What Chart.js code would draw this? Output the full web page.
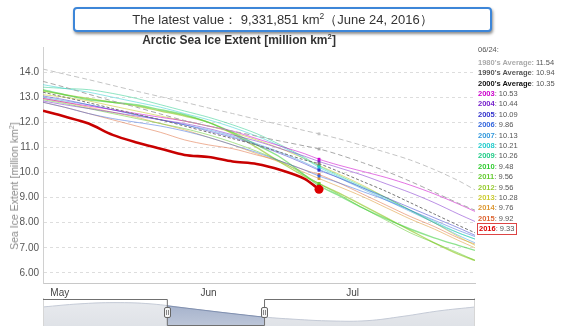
<!DOCTYPE html>
<html>
<head>
<meta charset="utf-8">
<script src="https://cdn.jsdelivr.net/npm/chart.js@4.4.1/dist/chart.umd.min.js"></script>
<style>
  body { margin: 0; width: 570px; height: 328px; overflow: hidden; background: #fff; position: relative;
         font-family: "Liberation Sans", Arial, sans-serif; }
  canvas { position: absolute; }
  #latestBox { position: absolute; left: 73px; top: 7px; width: 415px; height: 21px; border: 2px solid #3d86d8;
               border-radius: 4px; box-shadow: 1px 2px 3px rgba(0,0,0,0.45); text-align: center;
               font-size: 13px; line-height: 21px; color: #333; background: #fff; }
  #latestBox sup, #chartTitle sup { font-size: 65%; line-height: 0; }
  #chartTitle { position: absolute; left: 0; width: 478px; top: 33px; text-align: center; font-weight: bold;
                font-size: 12px; color: #333; }
  #yTitle { position: absolute; left: 14px; top: 186px; transform: translate(-50%, -50%) rotate(-90deg);
            white-space: nowrap; font-size: 10.5px; font-weight: normal; color: #8a8a8a; }
  #yTitle sup { font-size: 65%; line-height: 0; }
  #legendBox { position: absolute; left: 478px; top: 45px; font-size: 7.5px; color: #555; }
  #legendBox div { position: absolute; white-space: nowrap; line-height: 10px; }
  #legendBox b { font-weight: bold; }
  #legendBox .now { border: 1px solid #d44; padding: 0 2px 0 1px; left: -1px; }
</style>
</head>
<body>
<canvas id="mainChart" width="570" height="328" style="left:0;top:0"></canvas>
<canvas id="navChart" width="432" height="28" style="left:43px;top:298px"></canvas>
<div id="latestBox">The latest value： 9,331,851 km<sup>2</sup>（June 24, 2016）</div>
<div id="chartTitle">Arctic Sea Ice Extent [million km<sup>2</sup>]</div>
<div id="yTitle">Sea Ice Extent [million km<sup>2</sup>]</div>
<div id="legendBox"></div>
<script>
// days counted from May 1 (May 1 = 0)
const days = [-3.5, 1, 6, 11, 16, 21, 26, 31, 36, 41, 46, 51, 54, 58, 63, 68, 73, 78, 83, 86.5];
const latestDay = 54; // June 24
const latestLabel = '06/24:';
const monthTicks = [0, 31, 61];
const monthLabels = ['May', 'Jun', 'Jul'];
const yTicks = [6, 7, 8, 9, 10, 11, 12, 13, 14];

// extent in million km2
const avg1980s = [14.12, 13.92, 13.70, 13.47, 13.24, 13.02, 12.80, 12.57, 12.35, 12.12, 11.90, 11.67, 11.54, 11.35, 11.08, 10.80, 10.50, 10.12, 9.68, 9.31];
const avg1990s = [13.63, 13.40, 13.12, 12.85, 12.60, 12.33, 12.07, 11.85, 11.65, 11.45, 11.25, 11.06, 10.94, 10.72, 10.40, 10.05, 9.65, 9.22, 8.78, 8.50];
const avg2000s = [13.20, 13.00, 12.78, 12.55, 12.32, 12.10, 11.85, 11.60, 11.35, 11.10, 10.80, 10.50, 10.35, 10.05, 9.65, 9.25, 8.80, 8.35, 7.90, 7.60];
const ext2003 = [12.95, 12.80, 12.65, 12.50, 12.35, 12.20, 12.05, 11.85, 11.65, 11.35, 11.05, 10.75, 10.53, 10.30, 10.05, 9.80, 9.50, 9.15, 8.75, 8.45];
const ext2004 = [12.85, 12.70, 12.55, 12.40, 12.25, 12.10, 11.95, 11.75, 11.50, 11.25, 10.95, 10.65, 10.44, 10.20, 9.90, 9.55, 9.20, 8.80, 8.35, 8.05];
const ext2005 = [13.05, 12.90, 12.70, 12.50, 12.30, 12.10, 11.90, 11.65, 11.40, 11.10, 10.75, 10.35, 10.09, 9.80, 9.40, 9.00, 8.60, 8.20, 7.80, 7.50];
const ext2006 = [12.80, 12.60, 12.35, 12.15, 12.00, 11.85, 11.65, 11.40, 11.10, 10.80, 10.45, 10.10, 9.86, 9.60, 9.25, 8.90, 8.50, 8.10, 7.70, 7.45];
const ext2007 = [13.00, 12.85, 12.70, 12.50, 12.30, 12.10, 11.90, 11.70, 11.45, 11.15, 10.80, 10.40, 10.13, 9.80, 9.35, 8.90, 8.45, 8.00, 7.50, 7.20];
const ext2008 = [13.50, 13.35, 13.20, 13.00, 12.80, 12.60, 12.35, 12.10, 11.80, 11.45, 11.05, 10.55, 10.21, 9.85, 9.40, 8.95, 8.50, 8.05, 7.60, 7.35];
const ext2009 = [13.40, 13.35, 13.30, 13.15, 12.95, 12.70, 12.45, 12.20, 11.90, 11.55, 11.10, 10.60, 10.26, 9.90, 9.45, 9.00, 8.50, 8.00, 7.60, 7.35];
const ext2010 = [13.30, 13.10, 12.90, 12.80, 12.70, 12.50, 12.30, 12.00, 11.60, 11.10, 10.60, 9.90, 9.48, 9.10, 8.60, 8.15, 7.75, 7.40, 7.10, 6.90];
const ext2011 = [12.90, 12.75, 12.55, 12.35, 12.15, 11.95, 11.75, 11.50, 11.20, 10.85, 10.45, 9.90, 9.56, 9.15, 8.60, 8.10, 7.60, 7.20, 6.80, 6.50];
const ext2012 = [13.25, 13.10, 12.95, 12.80, 12.65, 12.45, 12.25, 12.00, 11.55, 11.00, 10.40, 9.85, 9.56, 9.20, 8.70, 8.20, 7.70, 7.20, 6.75, 6.50];
const ext2013 = [13.10, 13.00, 12.85, 12.65, 12.45, 12.25, 12.05, 11.85, 11.60, 11.30, 10.95, 10.55, 10.28, 9.95, 9.50, 9.00, 8.50, 8.00, 7.45, 7.10];
const ext2014 = [12.95, 12.80, 12.60, 12.40, 12.20, 11.95, 11.70, 11.40, 11.10, 10.75, 10.40, 10.00, 9.76, 9.45, 9.05, 8.60, 8.15, 7.75, 7.30, 7.00];
const ext2015 = [12.80, 12.60, 12.35, 12.10, 11.85, 11.60, 11.30, 11.10, 10.95, 10.70, 10.45, 10.10, 9.92, 9.60, 9.15, 8.70, 8.25, 7.85, 7.40, 7.15];
const ext2016 = [12.46, 12.23, 11.95, 11.50, 11.20, 10.95, 10.70, 10.62, 10.44, 10.34, 10.10, 9.75, 9.33, null, null, null, null, null, null, null];

// navigator strip (whole year, by month)
const navMonths = [0, 1, 2, 3, 4, 5, 6, 7, 8, 9, 10, 11, 12];
const navValues = [13.6, 15.8, 16.7, 15.8, 12.7, 9.6, 6.7, 4.8, 3.6, 3.8, 6.9, 10.8, 13.6];
const navRange = [3.44, 6.14];

// name, data, line colour, legend colour, kind
const seriesList = [
  ["1980's Average", avg1980s, '#c4c4c4', '#aaaaaa', 'avg'],
  ["1990's Average", avg1990s, '#a8a8a8', '#555555', 'avg'],
  ["2000's Average", avg2000s, '#777777', '#111111', 'avg'],
  ['2003', ext2003, 'rgba(204,0,204,0.55)', '#cc00cc', 'year'],
  ['2004', ext2004, 'rgba(119,34,204,0.5)', '#7722cc', 'year'],
  ['2005', ext2005, 'rgba(51,51,204,0.5)', '#3333cc', 'year'],
  ['2006', ext2006, 'rgba(51,102,221,0.5)', '#3366dd', 'year'],
  ['2007', ext2007, 'rgba(51,153,221,0.5)', '#3399dd', 'year'],
  ['2008', ext2008, 'rgba(34,204,204,0.5)', '#22cccc', 'year'],
  ['2009', ext2009, 'rgba(34,204,136,0.5)', '#22cc88', 'year'],
  ['2010', ext2010, 'rgba(51,204,51,0.55)', '#33cc33', 'year'],
  ['2011', ext2011, 'rgba(102,204,51,0.55)', '#66cc33', 'year'],
  ['2012', ext2012, 'rgba(153,204,51,0.7)', '#99cc33', 'year'],
  ['2013', ext2013, 'rgba(204,204,51,0.6)', '#cccc33', 'year'],
  ['2014', ext2014, 'rgba(221,153,51,0.55)', '#dd9933', 'year'],
  ['2015', ext2015, 'rgba(221,102,51,0.5)', '#dd6633', 'year'],
  ['2016', ext2016, '#c80000', '#dd0000', 'now']
];

const latestIdx = days.indexOf(latestDay);

function toPoints(vals) {
  return days.map((d, i) => ({ x: d, y: vals[i] })).filter(p => p.y !== null);
}

const datasets = seriesList.map(([name, vals, line, legendCol, kind], i) => {
  const onLatest = c => c.raw && c.raw.x === latestDay;
  const ds = {
    label: name,
    data: toPoints(vals),
    borderColor: line,
    borderWidth: 1,
    tension: 0.3,
    pointStyle: 'rect',
    pointBackgroundColor: kind === 'avg' ? line : legendCol,
    pointBorderWidth: 0,
    pointRadius: c => onLatest(c) ? 2 : 0,
    order: i
  };
  if (kind === 'avg') {
    ds.borderDash = i === 2 ? [3, 2] : [5, 3];
  }
  if (name === '2012' || name === '2010') ds.borderWidth = 1.4;
  if (kind === 'now') {
    ds.borderWidth = 2.6;
    ds.pointStyle = 'circle';
    ds.pointBackgroundColor = '#dd0000';
    ds.pointRadius = c => onLatest(c) ? 4.5 : 0;
    ds.order = -1;
  }
  return ds;
});

function fmtTick(v) {
  return v >= 10 ? v.toFixed(1) : v.toFixed(2);
}

new Chart(document.getElementById('mainChart'), {
  type: 'line',
  data: { datasets },
  options: {
    responsive: false,
    animation: false,
    events: [],
    layout: { padding: { top: 47, right: 95, left: 0, bottom: 0 } },
    plugins: { legend: { display: false }, tooltip: { enabled: false } },
    scales: {
      x: {
        type: 'linear',
        min: -3.5,
        max: 86.5,
        afterBuildTicks: s => { s.ticks = monthTicks.map(v => ({ value: v })); },
        afterFit: s => { s.height = 45; },
        ticks: {
          callback: v => monthLabels[monthTicks.indexOf(v)],
          color: '#444',
          font: { size: 10, family: 'Liberation Sans' },
          padding: -4,
          maxRotation: 0,
          autoSkip: false
        },
        grid: { display: false },
        border: { display: true, color: '#c8c8c8' }
      },
      y: {
        min: 5.6,
        max: 15,
        afterBuildTicks: s => { s.ticks = yTicks.map(v => ({ value: v })); },
        afterFit: s => { s.width = 43; },
        ticks: {
          callback: v => fmtTick(v),
          color: '#555',
          font: { size: 10, family: 'Liberation Sans' },
          padding: 4
        },
        grid: { color: '#dddddd', drawTicks: false },
        border: { display: true, color: '#d0d0d0', dash: [3, 3] }
      }
    }
  }
});

// legend column on the right
const legendBox = document.getElementById('legendBox');
let html = `<div style="top:0">${latestLabel}</div>`;
seriesList.forEach(([name, vals, line, legendCol, kind], i) => {
  const top = 12.7 + i * 10.4;
  const cls = kind === 'now' ? ' class="now"' : '';
  html += `<div${cls} style="top:${(top - (kind === 'now' ? 1 : 0)).toFixed(1)}px"><b style="color:${legendCol}">${name}</b>: ${vals[latestIdx].toFixed(2)}</div>`;
});
legendBox.innerHTML = html;

// navigator: mask over the selected range, outline and handles
const navPlugin = {
  id: 'navMask',
  afterDatasetsDraw(chart) {
    const { ctx, chartArea: a, scales } = chart;
    const x1 = scales.x.getPixelForValue(navRange[0]);
    const x2 = scales.x.getPixelForValue(navRange[1]);
    const pts = chart.getDatasetMeta(0).data;

    ctx.save();
    ctx.beginPath();
    ctx.rect(x1, a.top, x2 - x1, a.bottom - a.top);
    ctx.clip();
    const g = ctx.createLinearGradient(0, a.top, 0, a.bottom);
    g.addColorStop(0, 'rgba(150,165,195,0.9)');
    g.addColorStop(1, 'rgba(185,195,215,0.9)');
    ctx.beginPath();
    ctx.moveTo(pts[0].x, a.bottom);
    pts.forEach(p => ctx.lineTo(p.x, p.y));
    ctx.lineTo(pts[pts.length - 1].x, a.bottom);
    ctx.closePath();
    ctx.fillStyle = g;
    ctx.fill();
    ctx.beginPath();
    pts.forEach((p, i) => i ? ctx.lineTo(p.x, p.y) : ctx.moveTo(p.x, p.y));
    ctx.strokeStyle = '#8090b0';
    ctx.lineWidth = 1;
    ctx.stroke();
    ctx.restore();

    ctx.save();
    ctx.strokeStyle = '#d6d6d6';
    ctx.lineWidth = 1;
    ctx.beginPath();
    ctx.moveTo(a.left + 0.5, a.top);
    ctx.lineTo(a.left + 0.5, a.bottom);
    ctx.moveTo(a.right - 0.5, a.top);
    ctx.lineTo(a.right - 0.5, a.bottom);
    ctx.stroke();
    ctx.strokeStyle = '#707070';
    ctx.beginPath();
    ctx.moveTo(a.left, a.top + 1.5);
    ctx.lineTo(x1 + 0.5, a.top + 1.5);
    ctx.lineTo(x1 + 0.5, a.bottom - 0.5);
    ctx.lineTo(x2 + 0.5, a.bottom - 0.5);
    ctx.lineTo(x2 + 0.5, a.top + 1.5);
    ctx.lineTo(a.right, a.top + 1.5);
    ctx.stroke();

    [x1, x2].forEach(x => {
      const hx = Math.round(x) - 2.5, hy = 9.5;
      ctx.fillStyle = '#f4f4f4';
      ctx.strokeStyle = '#666';
      ctx.beginPath();
      ctx.roundRect(hx, hy, 6, 10, 1.5);
      ctx.fill();
      ctx.stroke();
      ctx.beginPath();
      ctx.moveTo(hx + 2, hy + 2.5);
      ctx.lineTo(hx + 2, hy + 7.5);
      ctx.moveTo(hx + 4, hy + 2.5);
      ctx.lineTo(hx + 4, hy + 7.5);
      ctx.strokeStyle = '#888';
      ctx.stroke();
    });
    ctx.restore();
  }
};

const navCtx = document.getElementById('navChart').getContext('2d');
const navFill = navCtx.createLinearGradient(0, 0, 0, 28);
navFill.addColorStop(0, '#e9ebef');
navFill.addColorStop(1, '#dfe2e7');

new Chart(navCtx, {
  type: 'line',
  data: {
    datasets: [{
      data: navMonths.map((m, i) => ({ x: m, y: navValues[i] })),
      borderColor: '#c4cad6',
      borderWidth: 1,
      backgroundColor: navFill,
      fill: 'start',
      tension: 0.4,
      pointRadius: 0
    }]
  },
  options: {
    responsive: false,
    animation: false,
    events: [],
    layout: { padding: 0 },
    plugins: { legend: { display: false }, tooltip: { enabled: false } },
    scales: {
      x: { type: 'linear', min: 0, max: 12, display: false },
      y: { min: 0, max: 20, display: false }
    }
  },
  plugins: [navPlugin]
});
</script>
</body>
</html>
